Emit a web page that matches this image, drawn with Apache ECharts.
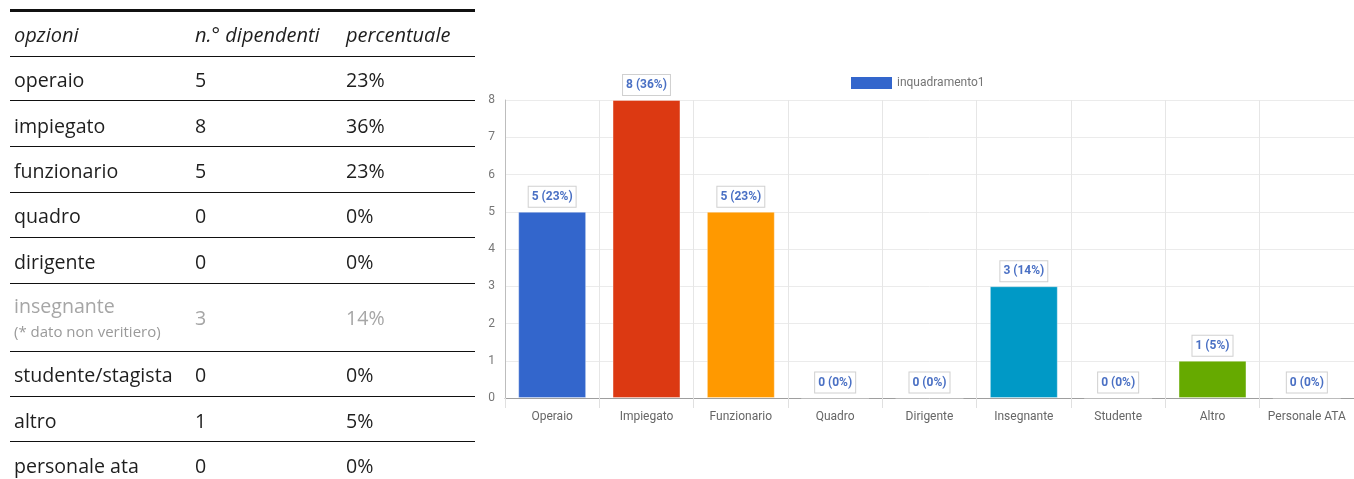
<!DOCTYPE html>
<html>
<head>
<meta charset="utf-8">
<script src="https://cdn.jsdelivr.net/npm/echarts@6/dist/echarts.min.js"></script>
<style>
  html, body { margin: 0; padding: 0; background: #fff; }
  #wrap { position: relative; width: 1354px; height: 479px; overflow: hidden; }
  #chart { position: absolute; left: 0; top: 0; width: 1354px; height: 479px; }
  #table { position: absolute; left: 0; top: 0; width: 480px; height: 479px; font-family: "Open Sans", sans-serif; color: #1e1e1e; }
  .hl { position: absolute; left: 10px; width: 465px; background: #111; }
  .cell { position: absolute; white-space: nowrap; font-size: 19.6px; font-weight: 400; line-height: 24px; }
  .hdr { font-style: italic; font-weight: 500; font-size: 20px; }
  .gray { color: #a6a6a6; }
  .note { font-size: 15px; font-weight: 500; color: #9a9a9a; }
</style>
</head>
<body>
<div id="wrap">
  <div id="chart"></div>
  <div id="table"></div>
</div>
<script>
// ---- data ----
const tableHeaders = ['opzioni', 'n.° dipendenti', 'percentuale'];
const tableOptions = ['operaio', 'impiegato', 'funzionario', 'quadro', 'dirigente', 'insegnante', 'studente/stagista', 'altro', 'personale ata'];
const tableNote = '(* dato non veritiero)';
const categories = ['Operaio', 'Impiegato', 'Funzionario', 'Quadro', 'Dirigente', 'Insegnante', 'Studente', 'Altro', 'Personale ATA'];
const counts = [5, 8, 5, 0, 0, 3, 0, 1, 0];
const percents = ['23%', '36%', '23%', '0%', '0%', '14%', '0%', '5%', '0%'];
const barColors = ['#3366cc', '#dc3912', '#ff9900', '#109618', '#990099', '#0099c6', '#dd4477', '#66aa00', '#b82e2e'];
const seriesName = 'inquadramento1';
const yTicks = [0, 1, 2, 3, 4, 5, 6, 7, 8];

// ---- table (HTML) ----
const tbl = document.getElementById('table');
const lineTops = [56, 100, 146, 192, 237, 283, 351, 396, 441];
const rowCenters = [80, 126, 171, 216, 262, 318, 375, 421, 466];
const colX = [14, 195, 346];
function addLine(top, h) {
  const d = document.createElement('div');
  d.className = 'hl'; d.style.top = top + 'px'; d.style.height = h + 'px';
  tbl.appendChild(d);
}
function addCell(text, x, cy, cls) {
  const d = document.createElement('div');
  d.className = 'cell ' + (cls || '');
  d.textContent = text;
  d.style.left = x + 'px';
  d.style.top = (cy - 12) + 'px';
  tbl.appendChild(d);
}
addLine(9, 3);
lineTops.forEach(t => addLine(t - 0.5, 1.3));
tableHeaders.forEach((h, i) => addCell(h, colX[i], 35, 'hdr'));
tableOptions.forEach((o, i) => {
  const isNote = o === 'insegnante';
  const cy = rowCenters[i];
  if (isNote) {
    addCell(o, colX[0], 306, 'gray');
    addCell(tableNote, colX[0], 331, 'note');
  } else {
    addCell(o, colX[0], cy);
  }
  addCell(String(counts[i]), colX[1], cy, isNote ? 'gray' : '');
  addCell(percents[i], colX[2], cy, isNote ? 'gray' : '');
});

// ---- chart ----
const chart = echarts.init(document.getElementById('chart'), null, { renderer: 'canvas' });
chart.setOption({
  animation: false,
  backgroundColor: 'transparent',
  textStyle: { fontFamily: 'Roboto, Arial, sans-serif' },
  legend: {
    left: 846, top: 72,
    itemWidth: 41, itemHeight: 12, itemGap: 6,
    icon: 'rect',
    data: [seriesName],
    textStyle: { color: '#757575', fontSize: 12, fontFamily: 'Roboto, Arial, sans-serif' }
  },
  grid: { left: 505, top: 100, width: 853, height: 298, containLabel: false },
  xAxis: {
    type: 'category',
    data: categories,
    boundaryGap: true,
    axisLine: { lineStyle: { color: '#9e9e9e', width: 1 } },
    axisTick: { show: true, length: 10, lineStyle: { color: '#e0e0e0' } },
    splitLine: { show: true, lineStyle: { color: '#e6e6e6' } },
    axisLabel: { color: '#666', fontSize: 12, margin: 13, interval: 0 }
  },
  yAxis: {
    type: 'value',
    min: yTicks[0], max: yTicks[yTicks.length - 1], interval: 1,
    axisLine: { show: true, lineStyle: { color: '#bdbdbd' } },
    axisTick: { show: false },
    splitLine: { lineStyle: { color: '#ebebeb' } },
    axisLabel: { color: '#777', fontSize: 12, margin: 10 }
  },
  series: [{
    name: seriesName,
    type: 'bar',
    barWidth: '72%',
    itemStyle: { color: barColors[0] },
    data: counts.map((v, i) => ({
      value: v,
      itemStyle: { color: barColors[i], borderColor: 'rgba(255,255,255,0.35)', borderWidth: 1 }
    })),
    label: {
      show: true,
      position: 'top',
      distance: 5,
      formatter: p => p.value + ' (' + percents[p.dataIndex] + ')',
      color: '#4a70c4',
      fontWeight: 'bold',
      fontSize: 12,
      fontFamily: 'Roboto, Arial, sans-serif',
      backgroundColor: '#fff',
      borderColor: '#d0d0d0',
      borderWidth: 1,
      padding: [4, 3, 4, 3]
    }
  }]
});
</script>
</body>
</html>
